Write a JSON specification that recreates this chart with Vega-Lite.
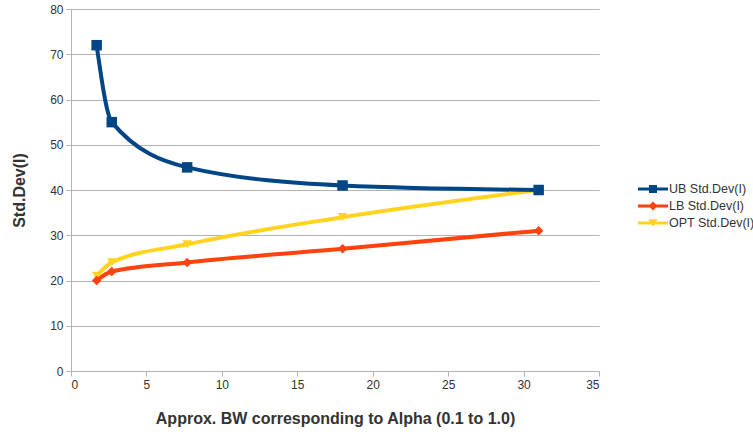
{
  "$schema": "https://vega.github.io/schema/vega-lite/v6.json",
  "width": 528,
  "height": 362,
  "autosize": {"type": "none"},
  "padding": {"left": 71, "top": 9, "right": 154, "bottom": 63},
  "background": "white",
  "config": {
    "view": {"stroke": null},
    "font": "Liberation Sans",
    "axis": {
      "labelFont": "Liberation Sans",
      "labelFontSize": 12,
      "labelColor": "#333333",
      "titleFont": "Liberation Sans",
      "titleFontSize": 16,
      "titleFontWeight": "bold",
      "titleColor": "#333333",
      "domainColor": "#b3b3b3",
      "tickColor": "#b3b3b3",
      "gridColor": "#b3b3b3",
      "tickSize": 5
    }
  },
  "data": {
    "values": [
      {"series": "UB Std.Dev(I)", "bw": 1.7, "sd": 72},
      {"series": "UB Std.Dev(I)", "bw": 2.7, "sd": 55},
      {"series": "UB Std.Dev(I)", "bw": 7.7, "sd": 45},
      {"series": "UB Std.Dev(I)", "bw": 18, "sd": 41},
      {"series": "UB Std.Dev(I)", "bw": 31, "sd": 40},
      {"series": "LB Std.Dev(I)", "bw": 1.7, "sd": 20},
      {"series": "LB Std.Dev(I)", "bw": 2.7, "sd": 22},
      {"series": "LB Std.Dev(I)", "bw": 7.7, "sd": 24},
      {"series": "LB Std.Dev(I)", "bw": 18, "sd": 27},
      {"series": "LB Std.Dev(I)", "bw": 31, "sd": 31},
      {"series": "OPT Std.Dev(I)", "bw": 1.7, "sd": 21},
      {"series": "OPT Std.Dev(I)", "bw": 2.7, "sd": 24},
      {"series": "OPT Std.Dev(I)", "bw": 7.7, "sd": 28},
      {"series": "OPT Std.Dev(I)", "bw": 18, "sd": 34},
      {"series": "OPT Std.Dev(I)", "bw": 31, "sd": 40}
    ]
  },
  "encoding": {
    "x": {
      "field": "bw", "type": "quantitative",
      "scale": {"domain": [0, 35], "nice": false},
      "axis": {"values": [0, 5, 10, 15, 20, 25, 30, 35], "grid": false, "title": "Approx. BW corresponding to Alpha (0.1 to 1.0)", "titlePadding": 20, "labelPadding": 3}
    },
    "y": {
      "field": "sd", "type": "quantitative",
      "scale": {"domain": [0, 80], "nice": false},
      "axis": {"values": [0, 10, 20, 30, 40, 50, 60, 70, 80], "grid": true, "title": "Std.Dev(I)", "titlePadding": 22, "labelPadding": 3}
    }
  },
  "layer": [
    {
      "mark": {"type": "point", "filled": true, "opacity": 0},
      "encoding": {
        "color": {
          "field": "series", "type": "nominal",
          "scale": {"domain": ["UB Std.Dev(I)", "LB Std.Dev(I)", "OPT Std.Dev(I)"], "range": ["#004586", "#ff420e", "#ffd320"]},
          "legend": {
            "orient": "none", "legendX": 567, "legendY": 170,
            "title": null, "symbolSize": 400, "symbolOpacity": 1, "symbolStrokeWidth": 0,
            "labelFontSize": 12.5, "labelColor": "#333333", "labelFont": "Liberation Sans",
            "rowPadding": 0, "labelOffset": 11
          }
        },
        "shape": {
          "field": "series", "type": "nominal",
          "scale": {
            "domain": ["UB Std.Dev(I)", "LB Std.Dev(I)", "OPT Std.Dev(I)"],
            "range": [
              "M-1,-0.15H2V0.15H-1Z M0.1,-0.4H0.9V0.4H0.1Z",
              "M-1,-0.15H2V0.15H-1Z M0.5,-0.45L0.95,0L0.5,0.45L0.05,0Z",
              "M-1,-0.15H2V0.15H-1Z M0.05,-0.38H0.95L0.5,0.4Z"
            ]
          },
          "legend": {
            "orient": "none", "legendX": 567, "legendY": 170,
            "title": null, "symbolSize": 400, "symbolOpacity": 1, "symbolStrokeWidth": 0,
            "labelFontSize": 12.5, "labelColor": "#333333", "labelFont": "Liberation Sans",
            "rowPadding": 0, "labelOffset": 11
          }
        }
      }
    },
    {
      "transform": [{"filter": "datum.series == 'OPT Std.Dev(I)'"}],
      "mark": {"type": "line", "interpolate": "monotone", "strokeWidth": 4, "color": "#ffd320"},
      "encoding": {"order": {"field": "bw"}}
    },
    {
      "transform": [{"filter": "datum.series == 'LB Std.Dev(I)'"}],
      "mark": {"type": "line", "interpolate": "monotone", "strokeWidth": 4, "color": "#ff420e"},
      "encoding": {"order": {"field": "bw"}}
    },
    {
      "transform": [{"filter": "datum.series == 'UB Std.Dev(I)'"}],
      "mark": {"type": "line", "interpolate": "monotone", "strokeWidth": 4, "color": "#004586"},
      "encoding": {"order": {"field": "bw"}}
    },
    {
      "transform": [{"filter": "datum.series == 'OPT Std.Dev(I)'"}],
      "mark": {"type": "point", "filled": true, "shape": "triangle-down", "size": 90, "color": "#ffd320", "opacity": 1}
    },
    {
      "transform": [{"filter": "datum.series == 'LB Std.Dev(I)'"}],
      "mark": {"type": "point", "filled": true, "shape": "diamond", "size": 90, "color": "#ff420e", "opacity": 1}
    },
    {
      "transform": [{"filter": "datum.series == 'UB Std.Dev(I)'"}],
      "mark": {"type": "point", "filled": true, "shape": "square", "size": 110, "color": "#004586", "opacity": 1}
    }
  ]
}
